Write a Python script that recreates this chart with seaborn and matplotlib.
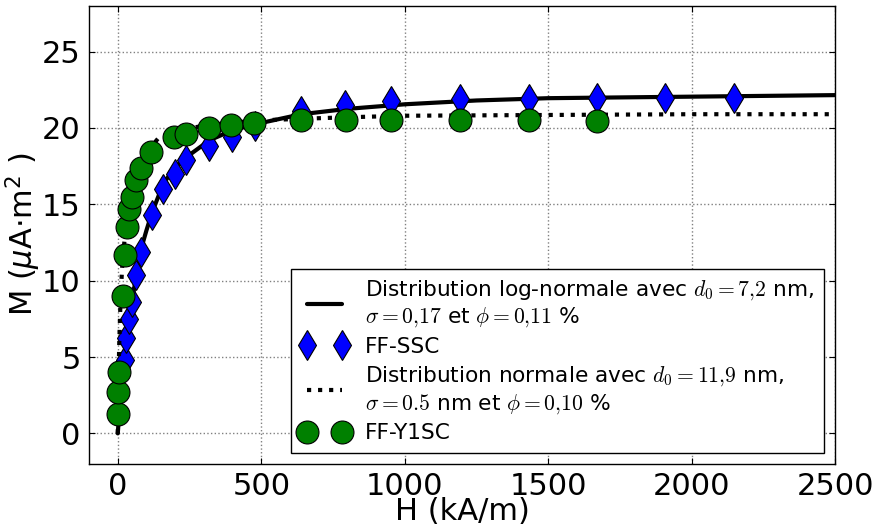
import matplotlib
matplotlib.use("Agg")
import matplotlib.pyplot as plt
from matplotlib.font_manager import FontProperties
import seaborn as sns

# data
h_ssc = [24, 30, 39, 50, 65, 82, 120, 158, 199, 239, 317, 398, 477, 638, 791, 953, 1192, 1432, 1670, 1908, 2147]
m_ssc = [4.8, 6.25, 7.5, 8.6, 10.4, 11.9, 14.3, 16.0, 17.0, 17.9, 18.8, 19.4, 20.15, 21.1, 21.5, 21.75, 21.9, 21.9, 21.95, 21.95, 21.95]

h_y1sc = [1, 1, 3, 18, 24, 33, 38, 48, 62, 80, 117, 195, 239, 317, 396, 475, 638, 794, 953, 1194, 1432, 1670]
m_y1sc = [1.3, 2.7, 4.0, 9.0, 11.7, 13.5, 14.7, 15.5, 16.6, 17.35, 18.4, 19.4, 19.6, 20.0, 20.2, 20.3, 20.5, 20.5, 20.55, 20.5, 20.5, 20.45]

# fitted curves (log-normal and normal distributions)
h_lognorm = [0, 5, 10, 20, 30, 40, 50, 65, 80, 100, 120, 160, 200, 240, 320, 400, 480, 640, 800, 1000, 1250, 1500, 2000, 2500]
m_lognorm = [0, 1.3, 2.6, 4.6, 6.1, 7.5, 8.7, 10.4, 12.0, 13.3, 14.5, 16.4, 17.4, 18.1, 19.2, 19.85, 20.25, 20.9, 21.25, 21.55, 21.8, 21.95, 22.05, 22.15]

h_norm = [0, 2, 5, 10, 15, 20, 30, 40, 60, 80, 100, 140, 200, 300, 400, 500, 640, 800, 1000, 1500, 2000, 2500]
m_norm = [0, 3.0, 5.8, 9.0, 10.8, 12.0, 13.8, 15.0, 16.7, 17.7, 18.4, 19.3, 19.8, 20.15, 20.35, 20.5, 20.6, 20.7, 20.8, 20.85, 20.9, 20.9]

lbl_lognorm = "Distribution log-normale avec $d_0=7{,}2$ nm,\n$\\sigma=0{,}17$ et $\\phi=0{,}11$ %"
lbl_ssc = "FF-SSC"
lbl_norm = "Distribution normale avec $d_0=11{,}9$ nm,\n$\\sigma=0.5$ nm et $\\phi=0{,}10$ %"
lbl_y1sc = "FF-Y1SC"

sns.set_style("white")
plt.rcParams["font.family"] = ["DejaVu Sans"]
plt.rcParams["text.color"] = "black"
plt.rcParams["axes.labelcolor"] = "black"
plt.rcParams["xtick.color"] = "black"
plt.rcParams["ytick.color"] = "black"

fig = plt.figure(figsize=(8.82, 5.26), dpi=100)
ax = fig.add_axes([0.101, 0.118, 0.846, 0.871])

sns.lineplot(x=h_lognorm, y=m_lognorm, ax=ax, color="black", linewidth=3,
             sort=False, estimator=None, label=lbl_lognorm, zorder=2)
sns.lineplot(x=h_ssc, y=m_ssc, ax=ax, linestyle="", marker="d", markersize=15.5,
             color="blue", markeredgecolor="black", markeredgewidth=0.8,
             sort=False, estimator=None, label=lbl_ssc, zorder=3)
sns.lineplot(x=h_norm, y=m_norm, ax=ax, color="black", linewidth=3, linestyle=":",
             sort=False, estimator=None, label=lbl_norm, zorder=4)
sns.lineplot(x=h_y1sc, y=m_y1sc, ax=ax, linestyle="", marker="o", markersize=16.5,
             color="green", markeredgecolor="black", markeredgewidth=0.8,
             sort=False, estimator=None, label=lbl_y1sc, zorder=5)

ax.set_xlim(-100, 2500)
ax.set_ylim(-2, 28)
ax.set_xticks([0, 500, 1000, 1500, 2000, 2500])
ax.set_yticks([0, 5, 10, 15, 20, 25])
ax.grid(True, linestyle=":", color="gray", linewidth=1)
ax.tick_params(labelsize=22, direction="in", length=4, pad=6,
               top=True, right=True, bottom=True, left=True)
for s in ax.spines.values():
    s.set_color("black")
    s.set_linewidth(1)

ax.set_xlabel("H (kA/m)", fontsize=22, labelpad=-3)
ax.set_ylabel("M ($\\mu$A$\\cdot$m$^2$ )", fontsize=22)
ax.yaxis.set_label_coords(-0.062, 0.5)

leg_font = FontProperties(family="DejaVu Sans", size=15.6)
leg_font.set_math_fontfamily("cm")
leg = ax.legend(loc="lower right", bbox_to_anchor=(0.985, 0.024), borderaxespad=0,
                numpoints=2, prop=leg_font, fancybox=False, framealpha=1,
                edgecolor="black", handlelength=2.2, handletextpad=0.8,
                labelspacing=0.35, borderpad=0.45)
leg.get_frame().set_linewidth(1)

fig.savefig("out.png", dpi=100)
